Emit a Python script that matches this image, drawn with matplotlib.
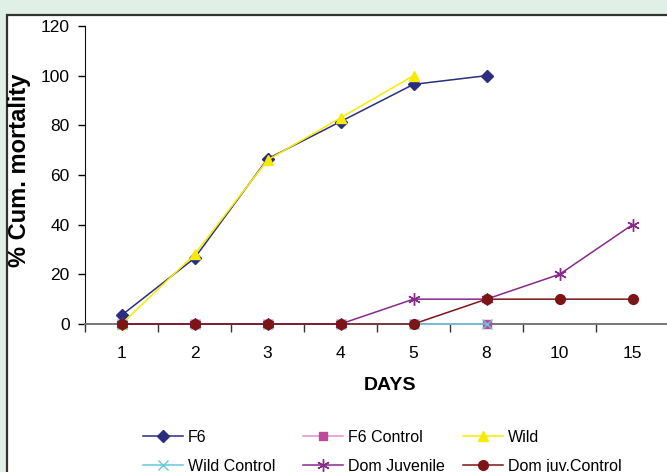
import numpy as np
import matplotlib.pyplot as plt
from matplotlib.patches import Rectangle

plt.rcParams['font.family'] = ['Liberation Sans', 'DejaVu Sans']

days = ['1', '2', '3', '4', '5', '8', '10', '15']
f6 = [3.5, 26.5, 66.5, 81.5, 96.5, 100]
f6_control = [0, 0, 0, 0, 0, 0]
wild = [0, 28, 66, 83, 100]
wild_control = [0, 0, 0, 0, 0, 0]
dom_juvenile = [0, 0, 0, 0, 10, 10, 20, 40]
dom_juv_control = [0, 0, 0, 0, 0, 10, 10, 10]

W, H = 667, 472
fig = plt.figure(figsize=(W / 100, H / 100), dpi=100)
fig.patch.set_facecolor('#e0f0e6')

# white chart area with dark border (runs off right/bottom edge)
fig.patches.append(Rectangle((7 / W, -0.1), 1.1, 1 - 15 / H + 0.1,
                             transform=fig.transFigure, facecolor='white',
                             edgecolor='#333333', linewidth=1.6, zorder=0))

left, right = 85, 669
bottom, top = 324, 26
ax = fig.add_axes([left / W, 1 - bottom / H, (right - left) / W, (bottom - top) / H])
ax.set_facecolor('none')
ax.set_zorder(2)

x = np.arange(len(days))
series = [
    ('F6', f6, '#2b2e7e', 'D', 6, 'none'),
    ('F6 Control', f6_control, '#e090c8', 's', 6, '#c04a9a'),
    ('Wild', wild, '#f7ec00', '^', 7, 'none'),
    ('Wild Control', wild_control, '#66c8dd', 'x', 7, 'none'),
    ('Dom Juvenile', dom_juvenile, '#86298a', (6, 2, 0), 9, 'none'),
    ('Dom juv.Control', dom_juv_control, '#7d1416', 'o', 7, 'none'),
]
lines = []
for label, vals, color, marker, ms, mfc in series:
    ln, = ax.plot(x[:len(vals)], vals, color=color, lw=1.1, marker=marker, ms=ms,
                  markerfacecolor=(color if mfc == 'none' else mfc),
                  markeredgecolor=(color if mfc == 'none' else mfc),
                  mew=1.0, label=label, clip_on=False, zorder=3)
    lines.append(ln)

ax.set_xlim(-0.5, len(days) - 0.5)
ax.set_ylim(0, 120)
ax.set_yticks(np.arange(0, 121, 20))
ax.tick_params(axis='y', labelsize=12.5, length=5, width=1, pad=6)
ax.set_xticks(x)
ax.set_xticklabels(days)
ax.set_xticks(np.arange(len(days) + 1) - 0.5, minor=True)
ax.tick_params(axis='x', which='major', length=0, labelsize=12.5, pad=16)
ax.tick_params(axis='x', which='minor', length=6, width=1, color='#333333')
for s in ['top', 'right']:
    ax.spines[s].set_visible(False)
ax.spines['left'].set_color('#111111')
ax.spines['bottom'].set_color('#777777')
ax.spines['bottom'].set_linewidth(1.4)

fig.text(390 / W, 1 - 386 / H, 'DAYS', ha='center', va='center',
         fontsize=14, fontweight='bold', zorder=3)
fig.text(20 / W, 1 - 170 / H, '% Cum. mortality', ha='center', va='center',
         rotation=90, fontsize=17, fontweight='bold', zorder=3)

# legend: three columns placed at fixed positions, two rows each
col_x = [143, 303, 463]
for c in range(3):
    idx = [c, c + 3]
    leg = fig.legend([lines[i] for i in idx], [series[i][0] for i in idx],
                     loc='upper left', bbox_to_anchor=(col_x[c] / W, 1 - 430 / H),
                     frameon=False, fontsize=11.5, handlelength=2.5,
                     handletextpad=0.3, labelspacing=0.85, borderaxespad=0,
                     borderpad=0)
    leg.set_zorder(3)

fig.savefig('out.png', dpi=100, facecolor=fig.get_facecolor())
